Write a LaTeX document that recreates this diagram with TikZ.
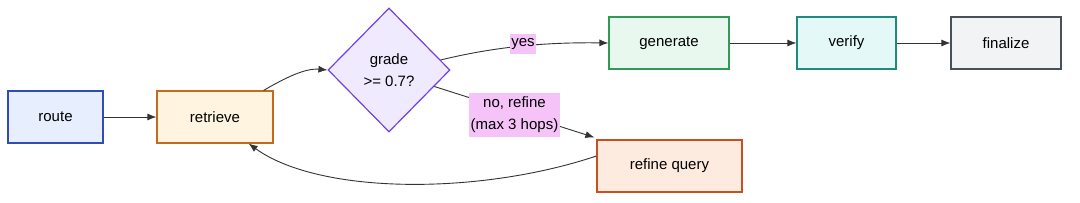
\documentclass[tikz,border=0pt]{standalone}
\usepackage{fontspec}
\setmainfont{Liberation Sans}
\usetikzlibrary{shapes.geometric,arrows.meta}
\definecolor{routeF}{HTML}{E7EFFF}\definecolor{routeD}{HTML}{2F4DB5}
\definecolor{retF}{HTML}{FFF4E0}\definecolor{retD}{HTML}{C46A1E}
\definecolor{grF}{HTML}{EFEAFD}\definecolor{grD}{HTML}{7440E0}
\definecolor{genF}{HTML}{E8F8EE}\definecolor{genD}{HTML}{2E9A55}
\definecolor{verF}{HTML}{E3F8F7}\definecolor{verD}{HTML}{1F8A80}
\definecolor{finF}{HTML}{F1F3F5}\definecolor{finD}{HTML}{495057}
\definecolor{refF}{HTML}{FDEBE0}\definecolor{refD}{HTML}{C8501E}
\definecolor{lblF}{HTML}{F6C3F9}
\definecolor{edgeC}{HTML}{333333}
\tikzset{
  box/.style={draw, line width=1.2pt, rectangle, inner sep=0pt, font=\fontsize{15}{18}\selectfont, text=black},
  lbl/.style={fill=lblF, inner xsep=1.5pt, inner ysep=4pt, font=\fontsize{15}{22}\selectfont, align=center},
  conn/.style={draw=edgeC, line width=0.9pt, -{Latex[length=9pt,width=7pt]}}
}
\begin{document}
\begin{tikzpicture}[x=1pt,y=-1pt]
\useasboundingbox (0,0) rectangle (1080,203);
\node[box, fill=routeF, draw=routeD, minimum width=95pt, minimum height=52pt] (route) at (55.5,117) {route};
\node[box, fill=retF, draw=retD, minimum width=116pt, minimum height=52pt] (retrieve) at (215,117) {retrieve};
\node[box, diamond, fill=grF, draw=grD, minimum width=122pt, minimum height=124pt, align=center, font=\fontsize{15}{22}\selectfont] (grade) at (389,70) {grade\\>= 0.7?};
\node[box, fill=genF, draw=genD, minimum width=120pt, minimum height=52pt] (generate) at (669,43) {generate};
\node[box, fill=verF, draw=verD, minimum width=99pt, minimum height=52pt] (verify) at (846.5,43) {verify};
\node[box, fill=finF, draw=finD, minimum width=110pt, minimum height=52pt] (finalize) at (1006,43) {finalize};
\node[box, fill=refF, draw=refD, minimum width=145pt, minimum height=52pt] (refine) at (669.5,166) {refine query};

\draw[conn] (route.east) -- (retrieve.west);
\draw[conn] ([xshift=-10pt]retrieve.north east) .. controls (285,78) and (305,68) .. (grade.west);
\draw[conn] (grade.11) .. controls (490,48) and (540,42) .. (generate.west);
\draw[conn] (generate.east) -- (verify.west);
\draw[conn] (verify.east) -- (finalize.west);
\draw[conn] (grade.-20) -- ([xshift=-2pt,yshift=2pt]refine.north west);
\draw[conn] ([yshift=10pt]refine.west) .. controls (480,195) and (320,195) .. ([xshift=-25pt]retrieve.south east);

\node[lbl] (yes) at (523,44) {yes};
\node[lbl] (no) at (514.5,115) {no, refine\\(max 3 hops)};
\end{tikzpicture}
\end{document}
